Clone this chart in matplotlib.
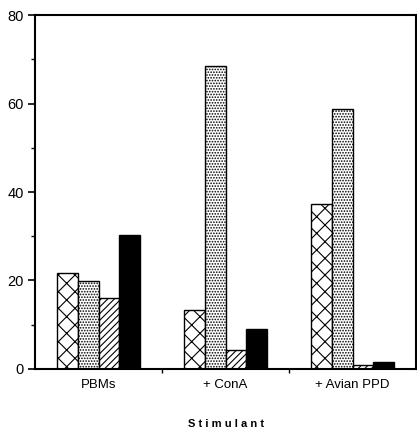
import matplotlib.pyplot as plt
import numpy as np

plt.rcParams['font.family'] = ['Liberation Sans', 'DejaVu Sans']
plt.rcParams['hatch.linewidth'] = 0.8

# data
groups = ['PBMs', '+ ConA', '+ Avian PPD']
series_a = [21.7, 13.3, 37.4]   # cross hatched
series_b = [19.9, 68.4, 58.8]   # dotted
series_c = [16.1, 4.3, 0.9]     # diagonal
series_d = [30.2, 9.0, 1.6]     # solid black

fig = plt.figure(figsize=(4.17, 4.34), dpi=100)
ax = fig.add_axes([0.084, 0.150, 0.914, 0.815])

x = np.arange(len(groups))
w = 0.163
styles = [(series_a, 'white', 'xx'),
          (series_b, 'white', '......'),
          (series_c, 'white', '/////'),
          (series_d, 'black', '')]
for i, (vals, fc, h) in enumerate(styles):
    ax.bar(x + (i - 1.5) * w, vals, w, facecolor=fc, edgecolor='black',
           hatch=h, linewidth=1.0)

ax.set_xlim(-0.5, 2.5)
ax.set_ylim(0, 80)
ax.set_yticks([0, 20, 40, 60, 80])
ax.set_yticks([10, 30, 50, 70], minor=True)
ax.set_xticks([0.5, 1.5])
ax.set_xticklabels([])
ax.tick_params(axis='y', which='major', direction='out', length=5, width=1.2,
               labelsize=10.5, pad=3)
ax.tick_params(axis='y', which='minor', direction='out', length=3, width=1.0)
ax.tick_params(axis='x', direction='out', length=3, width=1.0)
for s in ax.spines.values():
    s.set_linewidth(1.5)

for xi, g in zip(x, groups):
    ax.text(xi, -2.2, g, ha='center', va='top', fontsize=9.5)

fig.text(0.543, 0.024, 'S t i m u l a n t', ha='center', va='center',
         fontsize=8, fontweight='bold')

fig.savefig('out.png', dpi=100)
